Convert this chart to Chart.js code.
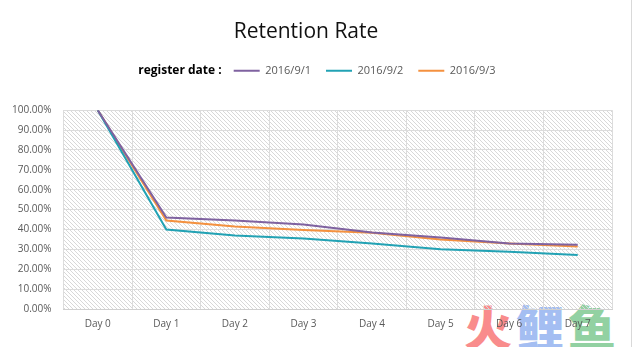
<!DOCTYPE html>
<html>
<head>
<meta charset="utf-8">
<script src="https://cdn.jsdelivr.net/npm/chart.js@4"></script>
<style>
  html, body { margin: 0; padding: 0; background: #fff; }
  #wrap { position: relative; width: 634px; height: 347px; }
  #wrap canvas { position: relative; z-index: 1; }
  #frame { position: absolute; left: 631px; top: 0; width: 1px; height: 347px; background: #d9d9d9; z-index: 2; }
  #mark { position: absolute; left: 464px; top: 301px; z-index: 0;
          font-family: "Noto Sans CJK SC"; font-weight: 900; font-size: 48px; line-height: 1; letter-spacing: 4px; white-space: nowrap; }
</style>
</head>
<body>
<div id="wrap">
  <div id="mark"><span style="color:#f98c8c">火</span><span style="color:#a4bef2">鲤</span><span style="color:#92d1a2">鱼</span></div>
  <canvas id="retention" width="634" height="347"></canvas>
  <div id="frame"></div>
</div>
<script>
// Retention by register date, in percent
const days = ['Day 0', 'Day 1', 'Day 2', 'Day 3', 'Day 4', 'Day 5', 'Day 6', 'Day 7'];
const reg0901 = [100, 46, 44.5, 42.5, 38.5, 36, 33, 32.3];
const reg0902 = [100, 40, 37, 35.5, 33, 30, 28.8, 27.2];
const reg0903 = [100, 44.5, 41.5, 39.8, 38.3, 35, 33, 31.5];
const yTicks = [0, 10, 20, 30, 40, 50, 60, 70, 80, 90, 100];

const FONT = '"Open Sans", "Liberation Sans", sans-serif';

// diagonal hatch for the plot background
function hatch() {
  const n = 4;
  const c = document.createElement('canvas');
  c.width = n; c.height = n;
  const g = c.getContext('2d');
  g.fillStyle = '#d8d8d8';
  for (let i = 0; i < n; i++) g.fillRect(i, i, 1, 1);
  return g.createPattern(c, 'repeat');
}

const plotBackground = {
  id: 'plotBackground',
  beforeDraw(chart) {
    const { ctx, chartArea: a } = chart;
    ctx.save();
    ctx.fillStyle = hatch();
    ctx.fillRect(a.left, a.top, a.right - a.left, a.bottom - a.top);
    ctx.restore();
  }
};

// extra room under the legend row
const legendGap = {
  id: 'legendGap',
  beforeInit(chart) {
    const fit = chart.legend.fit;
    chart.legend.fit = function () {
      fit.call(this);
      this.height += 24;
    };
  }
};

// bold "register date :" caption in the reserved first legend slot
const legendCaption = {
  id: 'legendCaption',
  afterDraw(chart) {
    const box = chart.legend.legendHitBoxes[0];
    if (!box) return;
    const ctx = chart.ctx;
    ctx.save();
    ctx.font = 'bold 12px ' + FONT;
    ctx.fillStyle = '#000';
    ctx.textAlign = 'right';
    ctx.textBaseline = 'middle';
    ctx.fillText('register date :', box.left + box.width + 3, box.top + box.height / 2);
    ctx.restore();
  }
};

const series = (label, data, color) => ({
  label, data,
  borderColor: color,
  backgroundColor: color,
  borderWidth: 2,
  pointRadius: 0,
  tension: 0
});

new Chart(document.getElementById('retention'), {
  type: 'line',
  data: {
    labels: days,
    datasets: [
      series('2016/9/1', reg0901, '#7f62a0'),
      series('2016/9/2', reg0902, '#22a2b4'),
      series('2016/9/3', reg0903, '#f4913f')
    ]
  },
  options: {
    responsive: false,
    animation: false,
    layout: { padding: { left: 0, right: 22, top: 0, bottom: 8 } },
    plugins: {
      tooltip: { enabled: false },
      title: {
        display: true,
        text: 'Retention Rate',
        color: '#111',
        font: { family: FONT, size: 21, weight: 'normal' },
        padding: { top: 19, bottom: 6 }
      },
      legend: {
        position: 'top',
        onClick: null,
        labels: {
          color: '#595959',
          font: { family: FONT, size: 11 },
          usePointStyle: true,
          pointStyle: 'line',
          pointStyleWidth: 26,
          padding: 15,
          generateLabels(chart) {
            const items = Chart.defaults.plugins.legend.labels.generateLabels(chart);
            items.forEach(it => { it.pointStyle = 'line'; });
            return [{
              text: 'register date :',
              fontColor: 'rgba(0,0,0,0)',
              fillStyle: 'rgba(0,0,0,0)',
              strokeStyle: 'rgba(0,0,0,0)',
              lineWidth: 0,
              pointStyle: 'line',
              hidden: false,
              datasetIndex: -1
            }].concat(items);
          }
        }
      }
    },
    scales: {
      x: {
        offset: true,
        grid: { offset: true, color: '#dcdcdc', drawTicks: false },
        border: { color: '#d0d0d0' },
        ticks: { color: '#595959', font: { family: FONT, size: 10 }, padding: 9 }
      },
      y: {
        min: 0,
        max: 100,
        afterBuildTicks(axis) { axis.ticks = yTicks.map(v => ({ value: v })); },
        grid: { color: '#dcdcdc', drawTicks: false },
        border: { display: false },
        ticks: {
          color: '#595959',
          font: { family: FONT, size: 10 },
          padding: 12,
          callback: v => v.toFixed(2) + '%'
        }
      }
    }
  },
  plugins: [plotBackground, legendGap, legendCaption]
});
</script>
</body>
</html>
